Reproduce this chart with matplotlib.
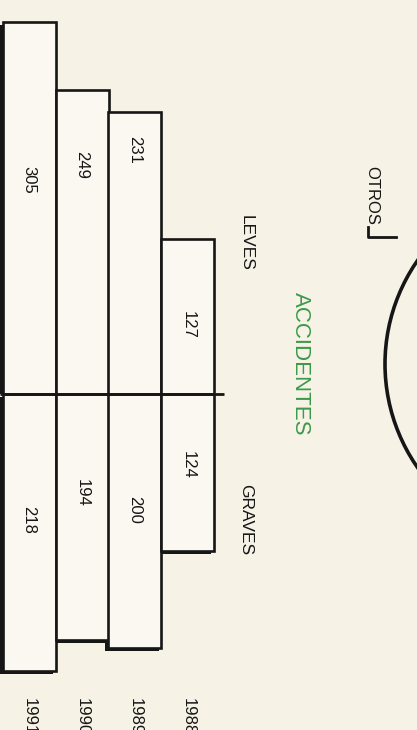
import matplotlib
matplotlib.use("Agg")
import matplotlib.pyplot as plt
from matplotlib.patches import Circle

# ---- data ----
years = ["1991", "1990", "1989", "1988"]
leves = [305, 249, 231, 127]
graves = [218, 194, 200, 124]
title = "ACCIDENTES"
side_labels = ["LEVES", "GRAVES"]
other_label = "OTROS"

# ---- layout / style ----
W, H = 417, 730
DPI = 100
BG = "#f6f2e6"
FILL = "#faf8f1"
INK = "#161616"
GREEN = "#3c9a4c"
FONT = "Liberation Sans"

zero_px = 394                  # divider, pixels from top
scale_top = 1.22               # px per accident, LEVES side
scale_bot = 1.27               # px per accident, GRAVES side
bar_px = 53
first_center_px = 29

fig = plt.figure(figsize=(W / DPI, H / DPI), dpi=DPI, facecolor=BG)
frac = (H - zero_px) / H
ax_t = fig.add_axes([0, frac, 1, 1 - frac])
ax_b = fig.add_axes([0, 0, 1, frac])
xlim = (-first_center_px / bar_px, (W - first_center_px) / bar_px)
for a in (ax_t, ax_b):
    a.set_facecolor("none")
    a.set_xlim(*xlim)
    a.axis("off")
ax_t.set_ylim(0, zero_px / scale_top)
ax_b.set_ylim(-(H - zero_px) / scale_bot, 0)

x = list(range(len(years)))
sdx = -3 / bar_px

# shadows
ax_t.bar([xi + sdx for xi in x], leves, width=1.0, bottom=-3 / scale_top, color=INK,
         zorder=1, linewidth=0)
ax_b.bar([xi + sdx for xi in x], [-g for g in graves], width=1.0, bottom=-3 / scale_bot,
         color=INK, zorder=1, linewidth=0)
# bars
ax_t.bar(x, leves, width=1.0, color=FILL, edgecolor=INK, linewidth=1.9, zorder=2)
ax_b.bar(x, [-g for g in graves], width=1.0, color=FILL, edgecolor=INK, linewidth=1.9, zorder=2)


def px_x(p):
    return (p - first_center_px) / bar_px


def pt(p):
    return (zero_px - p) / scale_top


def pb(p):
    return (zero_px - p) / scale_bot


# value labels (pixel rows of label centres)
lev_label_px = [180, 165, 150, 325]
gra_label_px = [520, 493, 510, 465]
for xi, v, lp in zip(x, leves, lev_label_px):
    ax_t.text(xi, pt(lp), str(v), rotation=270, ha="center", va="center", fontsize=12,
              family=FONT, color=INK, zorder=4)
for xi, v, lp in zip(x, graves, gra_label_px):
    ax_b.text(xi, pb(lp), str(v), rotation=270, ha="center", va="center", fontsize=12,
              family=FONT, color=INK, zorder=4)

# year labels at the bottom (cut by the figure edge as in the original)
for xi, yr in zip(x, years):
    ax_b.text(xi, pb(698), yr, rotation=270, ha="center", va="top",
              fontsize=12, family=FONT, color=INK, clip_on=False)

# overlay in pixel coordinates
ov = fig.add_axes([0, 0, 1, 1], facecolor="none")
ov.set_xlim(0, W)
ov.set_ylim(H, 0)
ov.axis("off")

# divider
ov.plot([0, 224], [zero_px, zero_px], color=INK, lw=2, zorder=5, solid_capstyle="butt")

ov.text(246, 243, side_labels[0], rotation=270, ha="center", va="center",
        fontsize=12.5, family=FONT, color=INK)
ov.text(246, 520, side_labels[1], rotation=270, ha="center", va="center",
        fontsize=12.5, family=FONT, color=INK)
ov.text(300, 364, title, rotation=270, ha="center", va="center",
        fontsize=16, family=FONT, color=GREEN)
ov.text(372, 195, other_label, rotation=270, ha="center", va="center",
        fontsize=12, family=FONT, color=INK)
ov.text(421, 132, "MILLONES M.R.", rotation=270, ha="center", va="center",
        fontsize=13, family=FONT, color=INK, fontweight="bold", clip_on=False)

ov.plot([368, 368, 396], [227, 237, 237], color=INK, lw=2)
ov.add_patch(Circle((566, 364), 181, fill=False, edgecolor=INK, lw=2.6))

fig.savefig("out.png", dpi=DPI, facecolor=BG)
